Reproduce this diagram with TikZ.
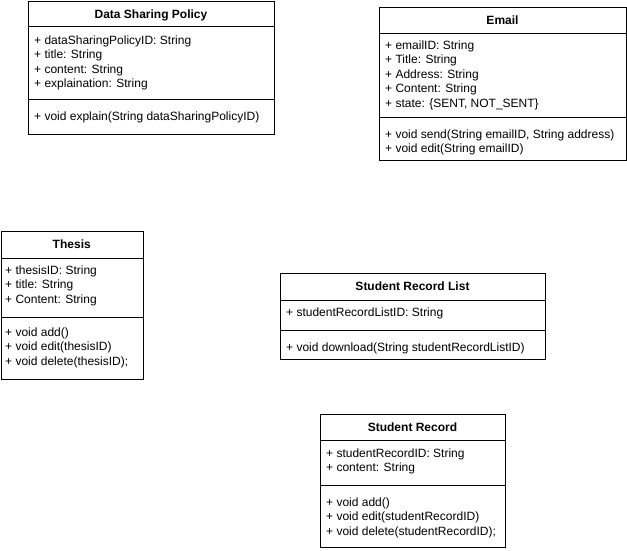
\documentclass[tikz,border=0pt]{standalone}
\usepackage{fontspec}
\setmainfont{Liberation Sans}
\begin{document}
\begin{tikzpicture}[x=1pt,y=-1pt,
  classbox/.style={draw=black, line width=1pt, inner sep=0pt, anchor=north west, fill=white},
  divider/.style={draw=black, line width=1pt},
  classtitle/.style={font=\fontsize{12}{14.4}\selectfont\bfseries, inner sep=0pt, anchor=base},
  member/.style={font=\fontsize{12}{14.4}\selectfont, inner sep=0pt, anchor=base west},
]
\useasboundingbox (0,0) rectangle (627,550);

% ---------- Data Sharing Policy ----------
\node[classbox, minimum width=246pt, minimum height=133pt] (dsp) at (28,1) {};
\draw[divider] (dsp.west |- 0,26) -- (dsp.east |- 0,26);
\draw[divider] (dsp.west |- 0,99) -- (dsp.east |- 0,99);
\node[classtitle] (dsp-t) at (151,18.5) {Data Sharing Policy};
\node[member] (dsp-a1) at (34,44.5) {+ dataSharingPolicyID: String};
\node[member] (dsp-a2) at (34,58.9) {+ title: String};
\node[member] (dsp-a3) at (34,73.3) {+ content: String};
\node[member] (dsp-a4) at (34,87.7) {+ explaination: String};
\node[member] (dsp-m1) at (34,120.5) {+ void explain(String dataSharingPolicyID)};

% ---------- Email ----------
\node[classbox, minimum width=247pt, minimum height=153pt] (email) at (379,7) {};
\draw[divider] (email.west |- 0,33) -- (email.east |- 0,33);
\draw[divider] (email.west |- 0,117) -- (email.east |- 0,117);
\node[classtitle] (email-t) at (502.5,24.5) {Email};
\node[member] (email-a1) at (385,49.5) {+ emailID: String};
\node[member] (email-a2) at (385,63.9) {+ Title: String};
\node[member] (email-a3) at (385,78.3) {+ Address: String};
\node[member] (email-a4) at (385,92.7) {+ Content: String};
\node[member] (email-a5) at (385,107.1) {+ state: \{SENT, NOT\_SENT\}};
\node[member] (email-m1) at (385,138.5) {+ void send(String emailID, String address)};
\node[member] (email-m2) at (385,152.9) {+ void edit(String emailID)};

% ---------- Thesis ----------
\node[classbox, minimum width=142.5pt, minimum height=148pt] (thesis) at (0.5,231) {};
\draw[divider] (thesis.west |- 0,258) -- (thesis.east |- 0,258);
\draw[divider] (thesis.west |- 0,317) -- (thesis.east |- 0,317);
\node[classtitle] (thesis-t) at (71.75,248.5) {Thesis};
\node[member] (thesis-a1) at (5,274.5) {+ thesisID: String};
\node[member] (thesis-a2) at (5,288.9) {+ title: String};
\node[member] (thesis-a3) at (5,303.3) {+ Content: String};
\node[member] (thesis-m1) at (5,336.5) {+ void add()};
\node[member] (thesis-m2) at (5,350.9) {+ void edit(thesisID)};
\node[member] (thesis-m3) at (5,365.3) {+ void delete(thesisID);};

% ---------- Student Record List ----------
\node[classbox, minimum width=265pt, minimum height=86pt] (srl) at (280,273) {};
\draw[divider] (srl.west |- 0,300) -- (srl.east |- 0,300);
\draw[divider] (srl.west |- 0,330) -- (srl.east |- 0,330);
\node[classtitle] (srl-t) at (412.5,290.5) {Student Record List};
\node[member] (srl-a1) at (286,316.5) {+ studentRecordListID: String};
\node[member] (srl-m1) at (286,351.5) {+ void download(String studentRecordListID)};

% ---------- Student Record ----------
\node[classbox, minimum width=185pt, minimum height=133pt] (sr) at (320,414) {};
\draw[divider] (sr.west |- 0,440) -- (sr.east |- 0,440);
\draw[divider] (sr.west |- 0,485) -- (sr.east |- 0,485);
\node[classtitle] (sr-t) at (412.5,431.5) {Student Record};
\node[member] (sr-a1) at (326,457.5) {+ studentRecordID: String};
\node[member] (sr-a2) at (326,471.9) {+ content: String};
\node[member] (sr-m1) at (326,506.5) {+ void add()};
\node[member] (sr-m2) at (326,520.9) {+ void edit(studentRecordID)};
\node[member] (sr-m3) at (326,535.3) {+ void delete(studentRecordID);};
\end{tikzpicture}
\end{document}
